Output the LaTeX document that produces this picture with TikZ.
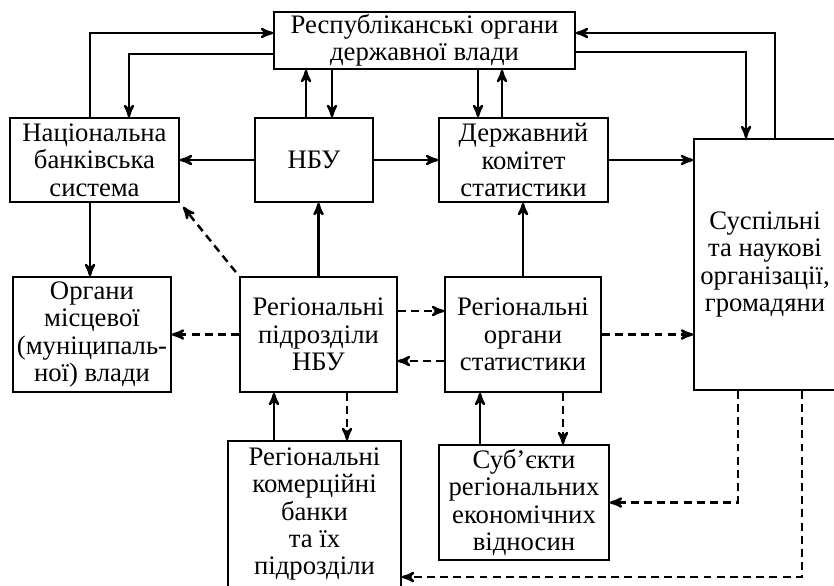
\documentclass[tikz,border=0pt]{standalone}
\usepackage{fontspec}
\setmainfont{Liberation Serif}
\usetikzlibrary{arrows,calc}

\begin{document}
\begin{tikzpicture}[x=0.02cm,y=-0.02cm,>=stealth',
    box/.style={draw,line width=1pt,align=center,inner sep=0pt,font=\fontsize{15.2}{15.6}\selectfont},
    link/.style={->,line width=1.4pt},
    dlink/.style={->,line width=1.4pt,dash pattern=on 4.5pt off 3pt}]
    \useasboundingbox (0,0) rectangle (834,585);
    \clip (0,0) rectangle (834,585);

    % Boxes
    \node[box,minimum width=6.02cm,minimum height=1.14cm] (rep) at (424.5,40.5) {Республіканські органи\\державної влади};
    \node[box,minimum width=3.38cm,minimum height=1.68cm] (nbs) at (94.5,160) {Національна\\банківська\\система};
    \node[box,minimum width=2.36cm,minimum height=1.68cm] (nbu) at (314,160) {НБУ};
    \node[box,minimum width=3.38cm,minimum height=1.68cm] (dks) at (523.5,160) {Державний\\комітет\\статистики};
    \node[box,minimum width=2.84cm,minimum height=5.02cm] (sus) at (765,264.5) {Суспільні\\та наукові\\організації,\\громадяни};
    \node[box,minimum width=3.16cm,minimum height=2.30cm] (org) at (92,334.5) {Органи\\місцевої\\(муніципаль-\\ної) влади};
    \node[box,minimum width=3.14cm,minimum height=2.30cm] (rpn) at (318.5,334.5) {Регіональні\\підрозділи\\НБУ};
    \node[box,minimum width=3.12cm,minimum height=2.30cm] (ros) at (523,334.5) {Регіональні\\органи\\статистики};
    \node[box,minimum width=3.46cm,minimum height=2.92cm] (rkb) at (314.5,514) {Регіональні\\комерційні\\банки\\та їх\\підрозділи};
    \node[box,minimum width=3.40cm,minimum height=2.30cm] (sub) at (524,502.5) {Суб’єкти\\регіональних\\економічних\\відносин};

    % Upper links
    \draw[link] ($(nbs.north)+(-4.5,0)$) |- ($(rep.west)+(0,-7.5)$);
    \draw[link] ($(rep.west)+(0,13.5)$) -| ($(nbs.north)+(34.5,0)$);
    \draw[link] ($(nbu.north)+(-8,0)$) coordinate (a) -- (a |- rep.south);
    \draw[link,<-] ($(nbu.north)+(18,0)$) coordinate (a) -- (a |- rep.south);
    \draw[link] (nbu) -- (nbs);
    \draw[link] (nbu) -- (dks);
    \draw[link,<-] ($(dks.north)+(-45.5,0)$) coordinate (a) -- (a |- rep.south);
    \draw[link] ($(dks.north)+(-21.5,0)$) coordinate (a) -- (a |- rep.south);
    \draw[link] ($(sus.north)+(10,0)$) |- ($(rep.east)+(0,-7.5)$);
    \draw[link] ($(rep.east)+(0,11.5)$) -| ($(sus.north)+(-19,0)$);
    \draw[link] (dks.east) -- (dks.east -| sus.west);

    % Middle links
    \draw[link] (ros.north) -- (ros.north |- dks.south);
    \draw[link] (rpn.north) -- (rpn.north |- nbu.south);
    \draw[link] ($(nbs.south)+(-4.5,0)$) coordinate (a) -- (a |- org.north);
    \draw[dlink,shorten <=3pt,shorten >=3pt] (rpn.north west) -- (nbs.south east);
    \draw[dlink] (rpn.west) -- (org.east);
    \draw[dlink] ($(rpn.east)+(0,-23.5)$) coordinate (a) -- (a -| ros.west);
    \draw[dlink] ($(ros.west)+(0,26.5)$) coordinate (a) -- (a -| rpn.east);
    \draw[dlink] (ros.east) -- (ros.east -| sus.west);

    % Lower links
    \draw[link] ($(rkb.north)+(-40.5,0)$) coordinate (a) -- (a |- rpn.south);
    \draw[dlink] ($(rpn.south)+(28.5,0)$) coordinate (a) -- (a |- rkb.north);
    \draw[link] ($(sub.north)+(-44,0)$) coordinate (a) -- (a |- ros.south);
    \draw[dlink] ($(ros.south)+(40,0)$) coordinate (a) -- (a |- sub.north);
    \draw[dlink] ($(sus.south)+(-27,0)$) |- (sub.east);
    \draw[dlink] ($(sus.south)+(37,0)$) |- ($(rkb.east)+(0,63)$);
\end{tikzpicture}
\end{document}
